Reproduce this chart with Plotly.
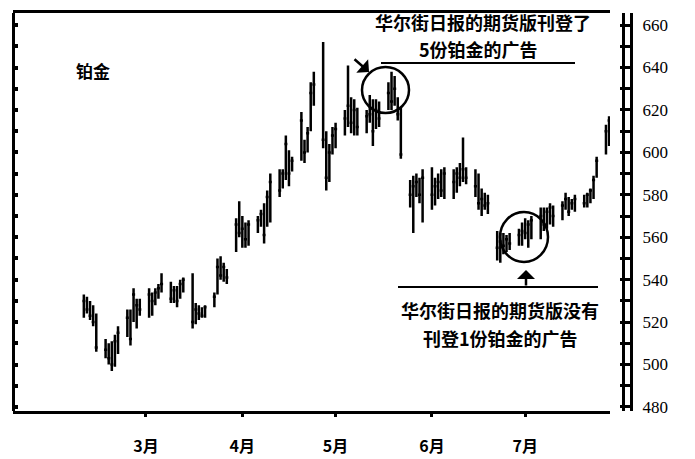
import pandas as pd
import plotly.graph_objects as go

# daily platinum bars, Feb 9 - Jul 28 (weekdays)
start_day = "2015-02-09"
highs = [533, 532, 530, 528, 524, 512, 510, 511, 514, 518,
         526, 526, 536, 531, 531, 536, 534, 536, 538, 543,
         539, 537, 537, 540, 541, 543, 529, 528, 527, 528,
         534, 550, 551, 548, 545, 569, 577, 570, 567, 568,
         570, 573, 576, 582, 590, 592, 592, 608, 601, 598,
         619, 606, 612, 633, 638, 652, 610, 604, 612, 614,
         620, 641, 626, 625, 621, 620, 627, 625, 625, 624,
         633, 638, 636, 626, 621, 587, 589, 590, 588, 592,
         593, 588, 590, 592, 593, 592, 593, 595, 607, 593,
         592, 590, 583, 581, 580, 563, 562, 562, 561, 562,
         564, 567, 569, 568, 570, 574, 574, 574, 576, 575,
         577, 581, 579, 578, 580, 580, 581, 583, 589, 598,
         613, 617]
lows = [522, 524, 521, 518, 506, 503, 500, 497, 499, 505,
        513, 509, 520, 517, 523, 522, 523, 528, 531, 534,
        529, 529, 527, 531, 534, 517, 519, 521, 522, 522,
        527, 533, 540, 539, 538, 553, 560, 555, 555, 556,
        562, 565, 557, 565, 567, 579, 583, 587, 584, 591,
        596, 595, 600, 610, 622, 602, 582, 586, 599, 602,
        608, 612, 609, 608, 608, 609, 614, 603, 611, 612,
        620, 620, 622, 615, 597, 574, 562, 579, 576, 567,
        573, 575, 578, 579, 578, 578, 581, 584, 586, 585,
        579, 573, 570, 573, 571, 549, 548, 552, 553, 554,
        556, 556, 559, 555, 559, 559, 563, 564, 566, 565,
        568, 573, 570, 573, 572, 574, 574, 576, 578, 588,
        599, 603]
closes = [530, 526, 523, 520, 508, 507, 503, 500, 511, 515,
          522, 512, 533, 528, 526, 533, 530, 534, 536, 538,
          531, 535, 530, 538, 540, 520, 526, 524, 523, 527,
          532, 546, 542, 546, 541, 566, 562, 564, 559, 566,
          568, 571, 561, 579, 586, 582, 590, 604, 590, 596,
          615, 600, 609, 628, 632, 606, 588, 600, 608, 611,
          616, 622, 614, 620, 612, 617, 618, 610, 620, 616,
          628, 624, 630, 618, 599, 580, 584, 586, 580, 588,
          580, 584, 586, 582, 590, 586, 590, 588, 592, 588,
          584, 576, 578, 575, 576, 555, 558, 556, 559, 557,
          561, 563, 562, 566, 568, 570, 566, 572, 574, 570,
          575, 578, 572, 576, 578, 576, 580, 582, 587, 596,
          610, 615]

month_ticks = ["2015-03-01", "2015-04-01", "2015-05-01", "2015-06-01", "2015-07-01"]
month_labels = ["3月", "4月", "5月", "6月", "7月"]
price_ticks = list(range(480, 661, 20))

dates = pd.bdate_range(start_day, periods=len(highs))

cjk = "Noto Sans CJK SC"


# pixel -> paper helpers (plot area is 13..631 x 13..411 on the page)
def px(x):
    return (x - 13) / 618


def py(y):
    return (411 - y) / 398


fig = go.Figure()
fig.add_trace(go.Ohlc(
    x=dates, open=closes, high=highs, low=lows, close=closes,
    increasing=dict(line=dict(color="black", width=2.5)),
    decreasing=dict(line=dict(color="black", width=2.5)),
    tickwidth=0.5, hoverinfo="skip", showlegend=False,
))
# invisible trace so the left frame axis gets drawn
fig.add_trace(go.Scatter(x=dates, y=closes, yaxis="y2", mode="lines",
                         line=dict(width=0), opacity=0, hoverinfo="skip",
                         showlegend=False))

# page body has an 8px margin, so the figure is 8px smaller and margins shifted
fig.update_layout(
    width=687, height=451, autosize=False,
    margin=dict(l=5, r=64, t=5, b=48),
    paper_bgcolor="white", plot_bgcolor="white",
    xaxis=dict(
        type="date", domain=[0, 0.966], automargin=False,
        range=["2015-01-17 05:00", "2015-07-28 07:00"],
        rangeslider=dict(visible=False),
        showgrid=False, zeroline=False,
        showline=True, linewidth=3, linecolor="black", mirror=True,
        ticks="outside", ticklen=3, tickwidth=3, tickcolor="black",
        tickvals=month_ticks, ticktext=month_labels,
        tickfont=dict(family=cjk, size=16, color="black", weight="bold"),
        ticklabelstandoff=16,
    ),
    yaxis=dict(
        range=[478.1, 665.7], side="right", anchor="free", position=1,
        automargin=False, showgrid=False, zeroline=False,
        showline=True, linewidth=3, linecolor="black",
        ticks="inside", ticklen=10, tickwidth=2.5, tickcolor="black",
        tickvals=price_ticks,
        minor=dict(dtick=10, tick0=480, ticks="inside", ticklen=10,
                   tickwidth=2.5, tickcolor="black"),
        tickfont=dict(family="Liberation Serif", size=17, color="black"),
        ticklabelstandoff=6,
    ),
    yaxis2=dict(
        range=[478.1, 665.7], overlaying="y", side="left", anchor="free",
        position=0, automargin=False, showgrid=False, zeroline=False,
        showline=True, linewidth=2.5, linecolor="black",
        ticks="inside", ticklen=3, tickwidth=4, tickcolor="black",
        dtick=10, tick0=480, showticklabels=False,
    ),
)

shapes = [
    # inner line of the right double axis
    dict(type="line", xref="paper", yref="paper", x0=px(623.5), x1=px(623.5),
         y0=0, y1=1, line=dict(color="black", width=3)),
    # rules under / above the notes
    dict(type="line", xref="paper", yref="paper", x0=px(381), x1=px(575),
         y0=py(63), y1=py(63), line=dict(color="black", width=2)),
    dict(type="line", xref="paper", yref="paper", x0=px(398), x1=px(598),
         y0=py(287), y1=py(287), line=dict(color="black", width=2)),
    # circles
    dict(type="circle", xref="paper", yref="paper", x0=px(362), x1=px(409),
         y0=py(113), y1=py(67), line=dict(color="black", width=2.5)),
    dict(type="circle", xref="paper", yref="paper", x0=px(500), x1=px(548),
         y0=py(262), y1=py(212), line=dict(color="black", width=2.5)),
]
fig.update_layout(shapes=shapes)

note_font = dict(family=cjk, size=18, color="black", weight="bold")
notes = [
    ("铂金", 93, 71, dict(family=cjk, size=17, color="black", weight="bold")),
    ("华尔街日报的期货版刊登了", 483, 22, note_font),
    ("5份铂金的广告", 478, 49, note_font),
    ("华尔街日报的期货版没有", 500, 310, note_font),
    ("刊登1份铂金的广告", 500, 338, note_font),
]
for text, x, y, f in notes:
    fig.add_annotation(text=text, xref="paper", yref="paper", x=px(x), y=py(y),
                       showarrow=False, font=f, xanchor="center", yanchor="middle")

# arrows
fig.add_annotation(text="", xref="paper", yref="paper", x=px(369), y=py(72),
                   ax=-16, ay=-14, showarrow=True, arrowhead=1, arrowsize=1.2,
                   arrowwidth=2.5, arrowcolor="black")
fig.add_annotation(text="", xref="paper", yref="paper", x=px(526), y=py(270),
                   ax=0, ay=17, showarrow=True, arrowhead=1, arrowsize=1.2,
                   arrowwidth=2.5, arrowcolor="black")

fig.write_html("out.html")
